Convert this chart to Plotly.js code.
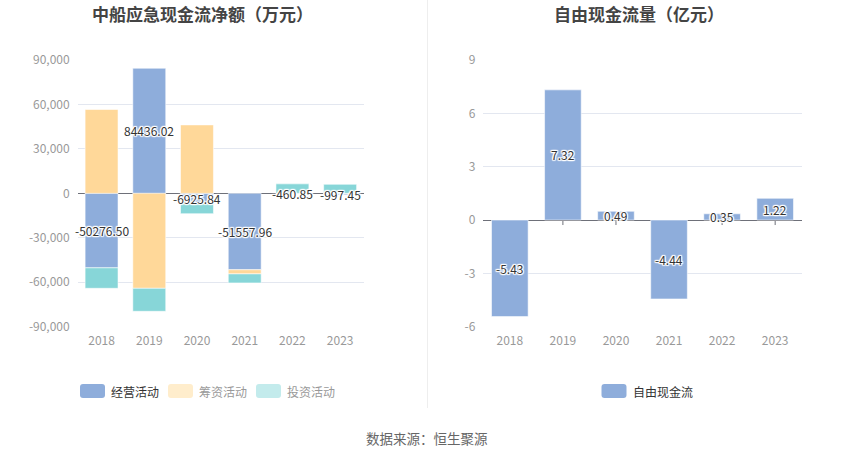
<!DOCTYPE html>
<html>
<head>
<meta charset="utf-8">
<script src="https://cdn.plot.ly/plotly-3.0.1.min.js"></script>
<style>html,body{margin:0;padding:0;background:#fff;}#chart{width:850px;height:459px;}</style>
</head>
<body>
<div id="chart"></div>
<script>
// ---- data ----
const years = ['2018', '2019', '2020', '2021', '2022', '2023'];
const operating = [-50276.50, 84436.02, -6925.84, -51557.96, -460.85, -997.45];   // 经营活动
const financing = [56600, -64100, 46200, -2800, 0, 0];                              // 筹资活动
const investing = [-13800, -15500, -6800, -6100, 6400, 6100];                       // 投资活动
const freeCashFlow = [-5.43, 7.32, 0.49, -4.44, 0.35, 1.22];                        // 自由现金流 (亿元)
const leftTickVals = [-90000, -60000, -30000, 0, 30000, 60000, 90000];
const leftTickText = ['-90,000', '-60,000', '-30,000', '0', '30,000', '60,000', '90,000'];
const rightTickVals = [-6, -3, 0, 3, 6, 9];
const rightTickText = ['-6', '-3', '0', '3', '6', '9'];
const seriesNames = ['经营活动', '筹资活动', '投资活动'];
const rightSeriesName = '自由现金流';

// ---- styles ----
const W = 850, H = 459;
const px = v => v / W;
const py = v => 1 - v / H;
const FONT = '"Noto Sans CJK SC", "Noto Sans", sans-serif';
const cBlue = '#8EADDB', cOrange = '#FFD899', cTeal = '#87D6D8';
const gridC = '#E3E7F0', axisC = '#6E7079', tickC = '#999999';
const shadow = '1px 1px 1px #fff, -1px -1px 1px #fff, 1px -1px 1px #fff, -1px 1px 1px #fff, 0 1px 1px #fff, 0 -1px 1px #fff, 1px 0 1px #fff, -1px 0 1px #fff';
const barLine = {color: 'rgba(255,255,255,0.55)', width: 1};

const traces = [
  {type: 'bar', x: years, y: operating, name: seriesNames[0], marker: {color: cBlue, line: barLine}, xaxis: 'x', yaxis: 'y', hoverinfo: 'none'},
  {type: 'bar', x: years, y: financing, name: seriesNames[1], marker: {color: cOrange, line: barLine}, xaxis: 'x', yaxis: 'y', hoverinfo: 'none'},
  {type: 'bar', x: years, y: investing, name: seriesNames[2], marker: {color: cTeal, line: barLine}, xaxis: 'x', yaxis: 'y', hoverinfo: 'none'},
  {type: 'bar', x: years, y: freeCashFlow, name: rightSeriesName, marker: {color: cBlue, line: barLine}, xaxis: 'x2', yaxis: 'y2', hoverinfo: 'none'}
];

const yDom = [py(326.7), py(60)];
const annotations = [];
// value labels (x given as category index so numeric-looking years are not read as coordinates)
years.forEach((yr, i) => {
  annotations.push({xref: 'x', yref: 'y', x: i, y: operating[i] / 2, text: operating[i].toFixed(2), showarrow: false,
    font: {family: FONT, size: 12, color: '#333', shadow: shadow}});
  annotations.push({xref: 'x2', yref: 'y2', x: i, y: freeCashFlow[i] / 2, text: freeCashFlow[i].toFixed(2), showarrow: false,
    font: {family: FONT, size: 12, color: '#333', shadow: shadow}});
});
// titles
annotations.push({xref: 'paper', yref: 'paper', x: px(202), y: py(13), text: '<b>中船应急现金流净额（万元）</b>', showarrow: false, xanchor: 'center', yanchor: 'middle', font: {family: FONT, size: 17, color: '#444'}});
annotations.push({xref: 'paper', yref: 'paper', x: px(639), y: py(13), text: '<b>自由现金流量（亿元）</b>', showarrow: false, xanchor: 'center', yanchor: 'middle', font: {family: FONT, size: 17, color: '#444'}});
// source
annotations.push({xref: 'paper', yref: 'paper', x: px(427), y: py(438), text: '数据来源：恒生聚源', showarrow: false, xanchor: 'center', yanchor: 'middle', font: {family: FONT, size: 13.5, color: '#666'}});

// custom legend
const shapes = [];
function roundRect(x0, y0, w, h, r, color) {
  const X = v => px(v), Y = v => py(v);
  const p = `M ${X(x0 + r)} ${Y(y0)} L ${X(x0 + w - r)} ${Y(y0)} Q ${X(x0 + w)} ${Y(y0)} ${X(x0 + w)} ${Y(y0 + r)} ` +
    `L ${X(x0 + w)} ${Y(y0 + h - r)} Q ${X(x0 + w)} ${Y(y0 + h)} ${X(x0 + w - r)} ${Y(y0 + h)} ` +
    `L ${X(x0 + r)} ${Y(y0 + h)} Q ${X(x0)} ${Y(y0 + h)} ${X(x0)} ${Y(y0 + h - r)} ` +
    `L ${X(x0)} ${Y(y0 + r)} Q ${X(x0)} ${Y(y0)} ${X(x0 + r)} ${Y(y0)} Z`;
  shapes.push({type: 'path', xref: 'paper', yref: 'paper', path: p, fillcolor: color, line: {width: 0}, layer: 'above'});
}
const legendItems = [
  {x: 80, color: cBlue, text: seriesNames[0], tc: '#333'},
  {x: 168, color: '#FFEDCC', text: seriesNames[1], tc: '#999'},
  {x: 256, color: '#C3EBEC', text: seriesNames[2], tc: '#999'},
  {x: 601.5, color: cBlue, text: rightSeriesName, tc: '#333'}
];
legendItems.forEach(it => {
  roundRect(it.x, 384, 25, 14, 3, it.color);
  annotations.push({xref: 'paper', yref: 'paper', x: px(it.x + 29), y: py(391), text: it.text, showarrow: false, xanchor: 'left', yanchor: 'middle',
    font: {family: FONT, size: 12, color: it.tc}});
});
// divider
shapes.push({type: 'line', xref: 'paper', yref: 'paper', x0: px(427.5), x1: px(427.5), y0: py(408), y1: 1, line: {color: '#EEEEEE', width: 1}});
// tick marks on the zero line of the right chart, at each category
years.forEach((yr, i) => {
  shapes.push({type: 'line', xref: 'x2', yref: 'y2', x0: i, x1: i, ysizemode: 'pixel', yanchor: 0, y0: 0, y1: -5,
    line: {color: axisC, width: 1}, layer: 'below'});
});

const xTickFont = {family: FONT, size: 12, color: tickC};
const layout = {
  width: W, height: H,
  margin: {l: 0, r: 0, t: 0, b: 0},
  paper_bgcolor: '#fff', plot_bgcolor: '#fff',
  showlegend: false,
  barmode: 'relative',
  bargap: 0.31,
  font: {family: FONT, size: 12, color: tickC},
  xaxis: {domain: [px(77.7), px(364)], anchor: 'y', type: 'category', range: [-0.5, years.length - 0.5], showgrid: false, showline: false, ticks: '', zeroline: false,
    tickfont: xTickFont, ticklabelstandoff: 5},
  yaxis: {domain: yDom, anchor: 'x', range: [-90000, 90000], tickvals: leftTickVals, ticktext: leftTickText, showgrid: true, gridcolor: gridC, gridwidth: 1,
    zeroline: true, zerolinecolor: axisC, zerolinewidth: 1, showline: false, ticks: '', tickfont: xTickFont, ticklabelstandoff: 7},
  xaxis2: {domain: [px(483.3), px(801.7)], anchor: 'y2', type: 'category', range: [-0.5, years.length - 0.5], showgrid: false, showline: false, ticks: '', zeroline: false,
    tickfont: xTickFont, ticklabelstandoff: 5},
  yaxis2: {domain: yDom, anchor: 'x2', range: [-6, 9], tickvals: rightTickVals, ticktext: rightTickText, showgrid: true, gridcolor: gridC, gridwidth: 1,
    zeroline: true, zerolinecolor: axisC, zerolinewidth: 1, showline: false, ticks: '', tickfont: xTickFont, ticklabelstandoff: 7},
  annotations: annotations,
  shapes: shapes
};

Plotly.newPlot('chart', traces, layout, {staticPlot: true, displayModeBar: false});
</script>
</body>
</html>
